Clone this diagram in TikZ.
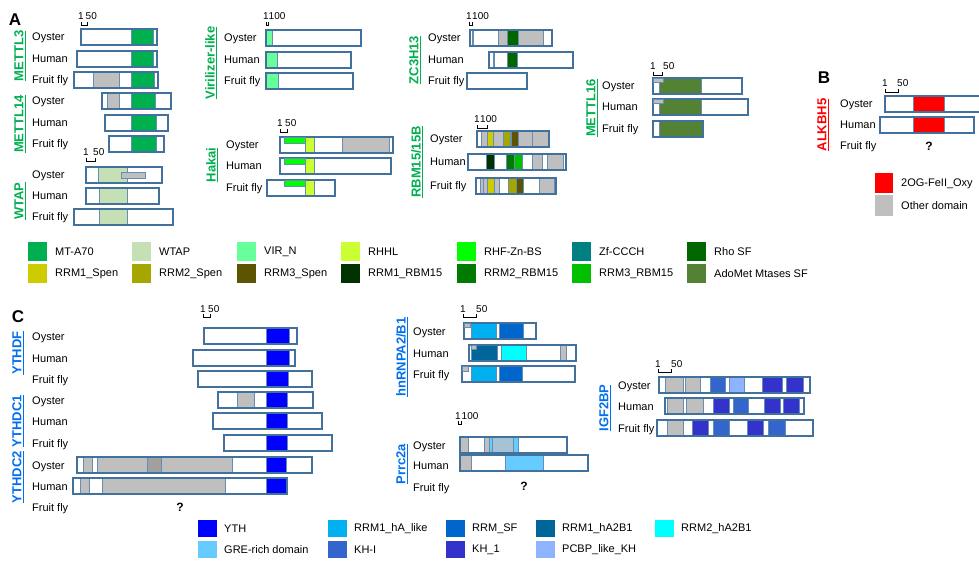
\documentclass[tikz,border=0pt]{standalone}
\usepackage{fontspec}
\setmainfont{Liberation Sans}
\usetikzlibrary{positioning}
\definecolor{barBlue}{RGB}{65,113,156}
\definecolor{geneGreen}{RGB}{0,176,80}
\definecolor{geneRed}{RGB}{255,0,0}
\definecolor{geneBlue}{RGB}{0,112,240}
\definecolor{mtA70}{RGB}{0,176,80}
\definecolor{wtapG}{RGB}{197,224,180}
\definecolor{virN}{RGB}{102,255,153}
\definecolor{rhhl}{RGB}{204,255,51}
\definecolor{rhfZn}{RGB}{0,255,0}
\definecolor{zfCCCH}{RGB}{0,128,128}
\definecolor{rhoSF}{RGB}{0,102,0}
\definecolor{rrmOneSpen}{RGB}{204,204,0}
\definecolor{rrmTwoSpen}{RGB}{166,166,0}
\definecolor{rrmThreeSpen}{RGB}{92,84,0}
\definecolor{rrmOneRbm}{RGB}{0,51,0}
\definecolor{rrmTwoRbm}{RGB}{0,122,0}
\definecolor{rrmThreeRbm}{RGB}{0,192,0}
\definecolor{adoMet}{RGB}{84,130,53}
\definecolor{oxyRed}{RGB}{255,0,0}
\definecolor{otherGray}{RGB}{191,191,191}
\definecolor{darkGray}{RGB}{160,160,160}
\definecolor{greyBlue}{RGB}{166,195,214}
\definecolor{ythBlue}{RGB}{0,0,255}
\definecolor{hALike}{RGB}{0,176,240}
\definecolor{rrmSF}{RGB}{0,102,204}
\definecolor{hAtwoBone}{RGB}{0,102,153}
\definecolor{hAtwoBtwo}{RGB}{0,255,255}
\definecolor{greRich}{RGB}{102,204,255}
\definecolor{khI}{RGB}{51,102,204}
\definecolor{khOne}{RGB}{51,51,204}
\definecolor{pcbp}{RGB}{143,180,255}
\tikzset{
  pbar/.style={draw=barBlue, line width=1.1pt},
  dom/.style={draw=barBlue!80, line width=0.4pt},
  row/.style={anchor=base west, inner sep=0pt, font=\fontsize{11}{13}\selectfont},
  gene/.style={rotate=90, inner sep=0pt, font=\fontsize{13}{15}\selectfont\bfseries},
  panel/.style={inner sep=0pt, font=\fontsize{17}{20}\selectfont\bfseries},
  rulertxt/.style={inner sep=0pt, font=\fontsize{10}{12}\selectfont},
  key/.style={anchor=west, inner sep=0pt, font=\fontsize{11}{13}\selectfont},
  unk/.style={inner sep=0pt, font=\fontsize{12}{14}\selectfont\bfseries}
}
% protein bar with domains: x1, x2, y centre, list x/x/colour
\newcommand{\protdom}[4]{%
  \fill[white] (#1,#3-8) rectangle (#2,#3+8);
  \foreach \ua/\ub/\uc in {#4}{\filldraw[dom, fill=\uc] (\ua,#3-8) rectangle (\ub,#3+8);}
  \draw[pbar] (#1,#3-8) rectangle (#2,#3+8);}
\newcommand{\protbox}[3]{\filldraw[pbar, fill=white] (#1,#3-8) rectangle (#2,#3+8);}
\newcommand{\species}[5]{%
  \node[row] (#1oy) at (#2,#3+4) {Oyster};
  \node[row] (#1hu) at (#2,#4+4) {Human};
  \node[row] (#1ff) at (#2,#5+4) {Fruit fly};}
\newcommand{\scalemark}[6]{%
  \draw[line width=0.7pt] (#2,#5-3) -- (#2,#5) -- (#3,#5) -- (#3,#5-3);
  \node[rulertxt, anchor=base] (#1a) at (#2,#5-5) {1};
  \node[rulertxt, anchor=base west] (#1b) at (#4,#5-5) {#6};}

\begin{document}
\begin{tikzpicture}[x=1pt, y=-1pt]
\path[use as bounding box, fill=white] (0,0) rectangle (979,561);

% panel A
\node[panel] (pA) at (15,20) {A};
\node[gene, text=geneGreen] (gMETTL3) at (20,56) {\underline{METTL3}};
\node[gene, text=geneGreen] (gMETTL14) at (20,124) {\underline{METTL14}};
\node[gene, text=geneGreen] (gWTAP) at (20,201) {\underline{WTAP}};
\species{m3}{32}{37}{59}{80}
\species{m14}{32}{101}{123}{144}
\species{wt}{32}{175}{196}{217}
\scalemark{sM3}{81}{87}{85.5}{25}{50}
\scalemark{sWT}{86}{95}{93}{161}{50}
\protdom{81}{157}{37}{131/153/mtA70}
\protdom{77}{157}{59}{131/153/mtA70}
\protdom{74}{158}{80}{93/119/otherGray, 131/154/mtA70}
\protdom{102}{171}{101}{107/119/otherGray, 131/155/mtA70}
\protdom{105}{168}{123}{131/156/mtA70}
\protdom{109}{164}{144}{131/156/mtA70}
\protdom{86}{162}{175}{98/127/wtapG}
\filldraw[dom, fill=otherGray] (121,172) rectangle (145,178);
\protdom{86}{159}{196}{99/127/wtapG}
\protdom{74}{173}{217}{99/127/wtapG}

\node[gene, text=geneGreen] (gVIR) at (211,63) {\underline{Virilizer-like}};
\node[gene, text=geneGreen] (gHakai) at (212,165) {\underline{Hakai}};
\species{vi}{224}{38}{60}{81}
\species{hk}{226}{145}{166}{188}
\scalemark{sVI}{266}{268}{268.5}{25}{100}
\scalemark{sHK}{280}{287}{285}{132}{50}
\protdom{266}{361}{38}{266/272/virN}
\protdom{266}{351}{60}{266/277/virN}
\protdom{266}{353}{81}{266/278/virN}
\protdom{280}{393}{145}{305/314/rhhl, 342/389/otherGray}
\filldraw[dom, fill=rhfZn] (284,137) rectangle (305,143);
\protdom{280}{391}{166}{305/314/rhhl}
\filldraw[dom, fill=rhfZn] (284,158) rectangle (305,164);
\protdom{267}{335}{188}{305/314/rhhl}
\filldraw[dom, fill=rhfZn] (284,180) rectangle (305,186);

\node[gene, text=geneGreen] (gZC) at (415,60) {\underline{ZC3H13}};
\node[gene, text=geneGreen] (gRBM) at (417,162) {\underline{RBM15/15B}};
\species{zc}{428}{38}{60}{81}
\species{rb}{430}{139}{162}{186}
\scalemark{sZC}{469}{472}{472}{25}{100}
\scalemark{sRB}{477}{487}{480}{128}{100}
\protdom{470}{552}{38}{472/473/zfCCCH, 498/507/otherGray, 507/518/rhoSF, 518/543/otherGray}
\protdom{489}{573}{60}{493/494/zfCCCH, 507/517/rhoSF}
\protbox{467}{527}{81}
\protdom{477}{549}{139}{481/487/otherGray, 487/493/rrmOneSpen, 493/503/otherGray, 503/510/rrmTwoSpen, 511/518/rrmThreeSpen, 518/532/otherGray, 532/549/otherGray}
\protdom{468}{566}{162}{486/494/rrmOneRbm, 506/514/rrmTwoRbm, 514/522/rrmThreeRbm, 532/542/otherGray, 547/563/otherGray}
\protdom{476}{556}{186}{480/483/otherGray, 483/487/otherGray, 487/494/rrmOneSpen, 494/499/otherGray, 508/516/rrmTwoSpen, 516/523/rrmThreeSpen, 539/554/otherGray}

\node[gene, text=geneGreen] (gM16) at (592,108) {\underline{METTL16}};
\species{m16}{602}{86}{107}{129}
\scalemark{sM16}{653}{662}{663}{75}{50}
\protdom{653}{742}{86}{659/701/adoMet}
\filldraw[dom, fill=otherGray] (653,78) rectangle (663,82);
\protdom{653}{748}{107}{659/701/adoMet}
\filldraw[dom, fill=otherGray] (653,99) rectangle (663,103);
\protdom{653}{703}{129}{659/702/adoMet}

% panel B
\node[panel] (pB) at (824,78) {B};
\node[gene, text=geneRed] (gALK) at (823,125) {\underline{ALKBH5}};
\species{al}{840}{104}{125}{146}
\scalemark{sAL}{885}{898}{897}{92}{50}
\protdom{885}{990}{104}{913/944/oxyRed}
\protdom{880}{974}{125}{913/944/oxyRed}
\node[unk] (qB) at (929,146) {?};
\fill[oxyRed] (875,173) rectangle (893,193);
\node[key] (kOxy) at (901,184) {2OG-FeII\_Oxy};
\fill[otherGray] (875,195) rectangle (893,216);
\node[key] (kOther) at (901,206) {Other domain};

% legend A
\foreach \kx/\kc/\kt [count=\i] in {28/mtA70/MT-A70, 132/wtapG/WTAP, 237/virN/VIR\_N, 341/rhhl/RHHL, 457/rhfZn/RHF-Zn-BS, 572/zfCCCH/Zf-CCCH, 687/rhoSF/Rho SF}{
  \fill[\kc] (\kx,242) rectangle ++(19,19);
  \node[key] (kA\i) at (\kx+27,251.5) {\kt};}
\foreach \kx/\kc/\kt [count=\i] in {28/rrmOneSpen/RRM1\_Spen, 132/rrmTwoSpen/RRM2\_Spen, 237/rrmThreeSpen/RRM3\_Spen, 341/rrmOneRbm/RRM1\_RBM15, 457/rrmTwoRbm/RRM2\_RBM15, 572/rrmThreeRbm/RRM3\_RBM15, 687/adoMet/AdoMet Mtases SF}{
  \fill[\kc] (\kx,264) rectangle ++(19,19);
  \node[key] (kB\i) at (\kx+27,273.5) {\kt};}

% panel C
\node[panel] (pC) at (18,317) {C};
\node[gene, text=geneBlue] (gYF) at (18,353) {\underline{YTHDF}};
\node[gene, text=geneBlue] (gYC1) at (18,421) {\underline{YTHDC1}};
\node[gene, text=geneBlue] (gYC2) at (18,477) {\underline{YTHDC2}};
\species{yf}{32}{336}{358}{379}
\species{yc}{32}{400}{421}{443}
\species{yd}{32}{465}{486}{507}
\scalemark{sYF}{203}{210}{208}{317}{50}
\protdom{204}{297}{336}{266/289/ythBlue}
\protdom{193}{295}{358}{266/289/ythBlue}
\protdom{198}{312}{379}{266/288/ythBlue}
\protdom{218}{313}{400}{237/254/otherGray, 266/287/ythBlue}
\protdom{213}{322}{421}{266/287/ythBlue}
\protdom{224}{332}{443}{266/287/ythBlue}
\protdom{77}{312}{465}{83/92/otherGray, 97/147/otherGray, 147/161/darkGray, 161/232/otherGray, 266/286/ythBlue}
\protdom{73}{287}{486}{80/89/otherGray, 102/225/otherGray, 266/286/ythBlue}
\node[unk] (qYD) at (180,507) {?};

\node[gene, text=geneBlue] (gHN) at (402,357) {\underline{hnRNPA2/B1}};
\node[gene, text=geneBlue] (gPR) at (402,464) {\underline{Prrc2a}};
\species{hn}{413}{331}{353}{374}
\species{pr}{413}{445}{465}{487}
\scalemark{sHN}{463}{476}{476}{317}{50}
\scalemark{sPR}{458}{461}{461.5}{424}{100}
\protdom{464}{536}{331}{471/496/hALike, 499/523/rrmSF}
\filldraw[dom, fill=otherGray] (464,323) rectangle (470,327);
\protdom{469}{576}{353}{471/497/hAtwoBone, 501/526/hAtwoBtwo, 560/566/otherGray}
\filldraw[dom, fill=otherGray] (471,345) rectangle (476,349);
\protdom{462}{575}{374}{471/496/hALike, 499/522/rrmSF}
\filldraw[dom, fill=otherGray] (462,366) rectangle (468,371);
\protdom{460}{567}{445}{460/468/otherGray, 484/489/otherGray, 489/518/greRich, 492/513/greyBlue}
\protdom{460}{588}{463}{460/471/otherGray, 505/543/greRich}
\node[unk] (qPR) at (524,486) {?};

\node[gene, text=geneBlue] (gIG) at (605,408) {\underline{IGF2BP}};
\species{ig}{618}{385}{406}{428}
\scalemark{sIG}{658}{671}{671}{372}{50}
\protdom{659}{810}{385}{665/683/otherGray, 685/700/otherGray, 710/725/khI, 729/744/pcbp, 762/782/khOne, 786/803/khOne}
\protdom{665}{804}{406}{667/683/otherGray, 686/703/otherGray, 713/729/khOne, 733/748/khI, 764/780/khOne, 783/799/khOne}
\protdom{657}{813}{428}{667/683/otherGray, 692/708/khOne, 713/729/khI, 747/763/khOne, 768/785/khI}

% legend C
\foreach \kx/\kc/\kt [count=\i] in {198/ythBlue/YTH, 328/hALike/RRM1\_hA\_like, 446/rrmSF/RRM\_SF, 536/hAtwoBone/RRM1\_hA2B1, 655/hAtwoBtwo/RRM2\_hA2B1}{
  \fill[\kc] (\kx,520) rectangle ++(19,17);
  \node[key] (kC\i) at (\kx+26,528.5) {\kt};}
\foreach \kx/\kc/\kt [count=\i] in {198/greRich/GRE-rich domain, 328/khI/KH-I, 446/khOne/KH\_1, 536/pcbp/PCBP\_like\_KH}{
  \fill[\kc] (\kx,541) rectangle ++(19,17);
  \node[key] (kD\i) at (\kx+26,549.5) {\kt};}
\end{tikzpicture}
\end{document}
